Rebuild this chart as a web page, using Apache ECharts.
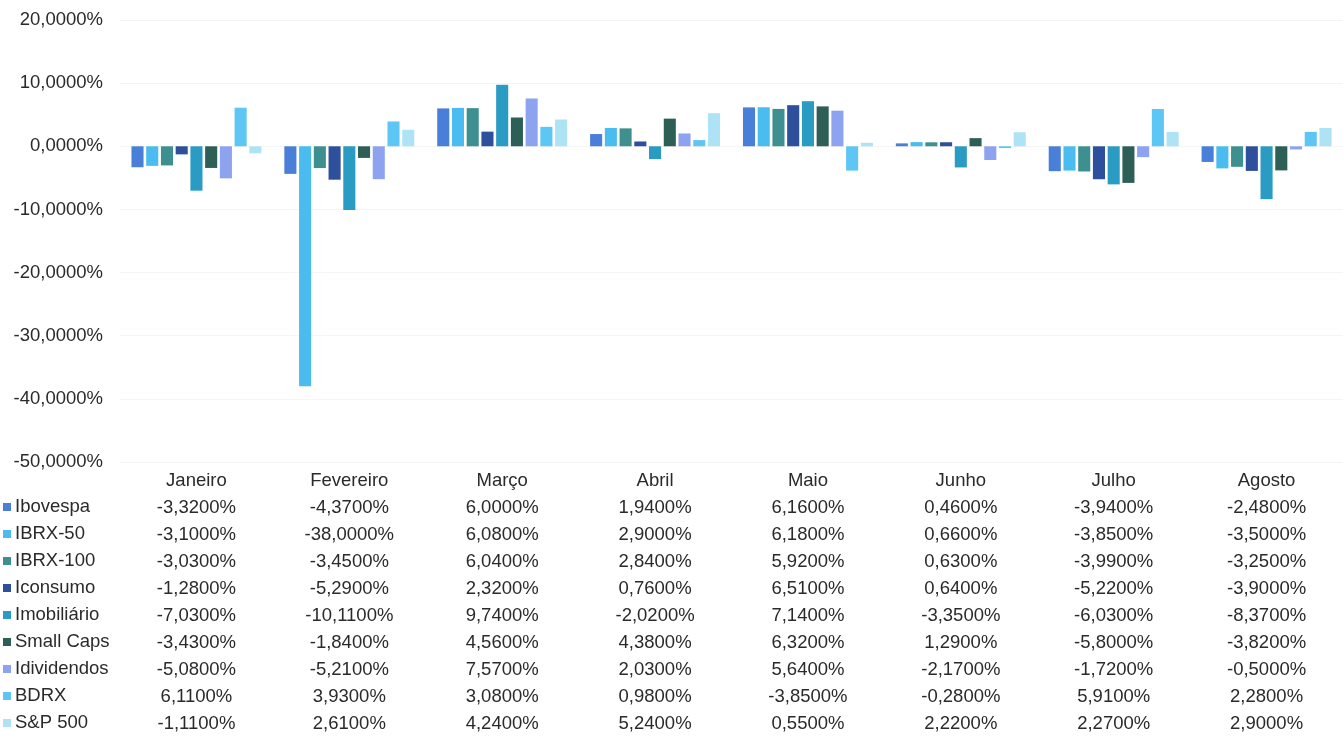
<!DOCTYPE html>
<html>
<head>
<meta charset="utf-8">
<script src="https://cdn.jsdelivr.net/npm/echarts@6/dist/echarts.min.js"></script>
<style>
html,body{margin:0;padding:0;background:#fff;}
#c{width:1343px;height:738px;}
</style>
</head>
<body>
<div id="c"></div>
<script>
const months = ['Janeiro','Fevereiro','Março','Abril','Maio','Junho','Julho','Agosto'];
const seriesNames = ['Ibovespa','IBRX-50','IBRX-100','Iconsumo','Imobiliário','Small Caps','Idividendos','BDRX','S&P 500'];
const ibovespa    = [-3.32, -4.37, 6.00, 1.94, 6.16, 0.46, -3.94, -2.48];
const ibrx50      = [-3.10, -38.00, 6.08, 2.90, 6.18, 0.66, -3.85, -3.50];
const ibrx100     = [-3.03, -3.45, 6.04, 2.84, 5.92, 0.63, -3.99, -3.25];
const iconsumo    = [-1.28, -5.29, 2.32, 0.76, 6.51, 0.64, -5.22, -3.90];
const imobiliario = [-7.03, -10.11, 9.74, -2.02, 7.14, -3.35, -6.03, -8.37];
const smallCaps   = [-3.43, -1.84, 4.56, 4.38, 6.32, 1.29, -5.80, -3.82];
const idividendos = [-5.08, -5.21, 7.57, 2.03, 5.64, -2.17, -1.72, -0.50];
const bdrx        = [6.11, 3.93, 3.08, 0.98, -3.85, -0.28, 5.91, 2.28];
const sp500       = [-1.11, 2.61, 4.24, 5.24, 0.55, 2.22, 2.27, 2.90];
const yTicks = {min: -50, max: 20, interval: 10};

const allData = [ibovespa, ibrx50, ibrx100, iconsumo, imobiliario, smallCaps, idividendos, bdrx, sp500];
const colors = ['#4a7fd9','#4bbcf0','#3e8f90','#2e4f9b','#2a9bc2','#2e5f56','#8ea3f0','#5ec6f5','#ade3f5'];

const fmt = v => v.toFixed(4).replace('.', ',') + '%';
const FONT = '"Liberation Sans", Arial, sans-serif';
const FS = 18.5;
const TXT = '#2a2a2a';

const chart = echarts.init(document.getElementById('c'));

const graphics = [];
seriesNames.forEach((n, i) => {
  const y = 507 + i * 27;
  graphics.push({type:'rect', left: 3, top: y - 4, shape:{width:8, height:8}, style:{fill: colors[i]}});
  graphics.push({type:'text', left: 15, top: y - 10, style:{text: n, font: FS + 'px ' + FONT, fill: TXT}});
});

chart.setOption({
  animation: false,
  textStyle: {fontFamily: FONT},
  grid: {left: 120, right: 0, top: 20, bottom: 276},
  xAxis: {
    type: 'category',
    data: months,
    position: 'bottom',
    axisLine: {show: false, onZero: false},
    axisTick: {show: false},
    axisLabel: {
      margin: 5,
      interval: 0,
      fontSize: FS,
      lineHeight: 27,
      color: TXT,
      fontFamily: FONT,
      formatter: (val, idx) => [val].concat(allData.map(d => fmt(d[idx]))).join('\n')
    }
  },
  yAxis: {
    type: 'value',
    min: yTicks.min, max: yTicks.max, interval: yTicks.interval,
    axisLine: {show: false},
    axisTick: {show: false},
    splitLine: {lineStyle: {color: '#f5f5f5'}},
    axisLabel: {
      margin: 17,
      fontSize: FS,
      color: TXT,
      fontFamily: FONT,
      formatter: v => fmt(v)
    }
  },
  graphic: graphics,
  series: seriesNames.map((n, i) => ({
    name: n,
    type: 'bar',
    data: allData[i],
    barGap: '22%',
    barCategoryGap: '15%',
    itemStyle: {color: colors[i]}
  }))
});
</script>
</body>
</html>
